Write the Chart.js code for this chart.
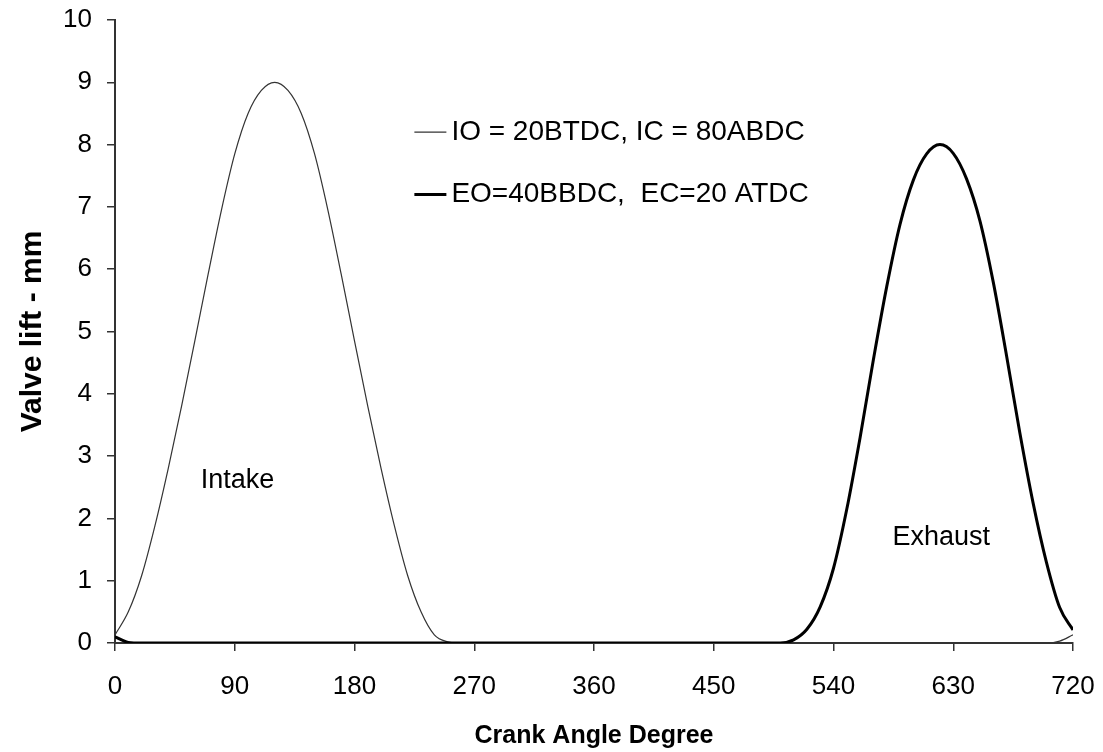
<!DOCTYPE html>
<html>
<head>
<meta charset="utf-8">
<script src="https://cdn.jsdelivr.net/npm/chart.js@4/dist/chart.umd.min.js"></script>
<style>
  html, body { margin: 0; padding: 0; background: #fff; }
  #wrap { width: 1103px; height: 752px; }
</style>
</head>
<body>
<div id="wrap"><canvas id="lift" width="1103" height="752"></canvas></div>
<script>
const FONT = "'Liberation Sans', Arial, Helvetica, sans-serif";

// crank angle (deg) vs valve lift (mm)
const intakeDeg  = [0, 10, 20, 30, 40, 50, 60, 70, 80, 90, 100, 110, 120, 130, 140, 150, 160, 170, 180,
                    190, 200, 210, 220, 230, 240, 250, 260, 700, 710, 720];
const intakeLift = [0.13, 0.5, 1.08, 1.88, 2.8, 3.8, 4.85, 5.92, 6.95, 7.85, 8.5, 8.87, 9.0, 8.87, 8.5, 7.85, 6.95, 5.92, 4.85,
                    3.8, 2.8, 1.88, 1.08, 0.5, 0.13, 0.02, 0.0, 0.0, 0.03, 0.13];

const exhaustDeg  = [0, 10, 20, 500, 510, 520, 530, 540, 550, 560, 570, 580, 590, 600, 610, 620,
                     630, 640, 650, 660, 670, 680, 690, 700, 710, 720];
const exhaustLift = [0.1, 0.01, 0.0, 0.0, 0.05, 0.22, 0.58, 1.2, 2.15, 3.3, 4.55, 5.72, 6.72, 7.43, 7.85, 8.0,
                     7.86, 7.45, 6.78, 5.8, 4.62, 3.38, 2.25, 1.3, 0.57, 0.21];

const xTicks = [0, 90, 180, 270, 360, 450, 540, 630, 720];
const yTicks = [0, 1, 2, 3, 4, 5, 6, 7, 8, 9, 10];

const intakeLabel = "IO = 20BTDC, IC = 80ABDC";
const exhaustLabel = "EO=40BBDC,  EC=20 ATDC";

const pts = (xs, ys) => xs.map((x, i) => ({ x, y: ys[i] }));

// in-plot texts: legend and the two curve names
const notes = {
  id: "notes",
  afterDatasetsDraw(chart) {
    const { ctx, scales: { x, y } } = chart;
    ctx.save();
    ctx.fillStyle = "#000";
    ctx.font = "27px " + FONT;
    ctx.textBaseline = "middle";
    ctx.textAlign = "center";
    ctx.fillText("Intake", x.getPixelForValue(92), y.getPixelForValue(2.6));
    ctx.fillText("Exhaust", x.getPixelForValue(621), y.getPixelForValue(1.7));

    ctx.font = "28px " + FONT;
    const lx = x.getPixelForValue(225);
    const rows = [
      { text: intakeLabel, w: 1.2, color: "#333", y: y.getPixelForValue(8.2) },
      { text: exhaustLabel, w: 3, color: "#000", y: y.getPixelForValue(7.2) },
    ];
    ctx.textAlign = "left";
    for (const r of rows) {
      ctx.beginPath();
      ctx.lineWidth = r.w;
      ctx.strokeStyle = r.color;
      ctx.moveTo(lx, r.y);
      ctx.lineTo(lx + 32, r.y);
      ctx.stroke();
      ctx.fillText(r.text, lx + 37, r.y);
    }
    ctx.restore();
  },
};

const axisLine = { display: true, color: "#333", width: 2 };
const tickGrid = { drawOnChartArea: false, drawTicks: true, tickLength: 8, color: "#333", lineWidth: 1.5 };

new Chart(document.getElementById("lift"), {
  type: "line",
  data: {
    datasets: [
      {
        label: exhaustLabel,
        data: pts(exhaustDeg, exhaustLift),
        borderColor: "#000",
        borderWidth: 3,
        pointRadius: 0,
        cubicInterpolationMode: "monotone",
        fill: false,
      },
      {
        label: intakeLabel,
        data: pts(intakeDeg, intakeLift),
        borderColor: "#333",
        borderWidth: 1.2,
        pointRadius: 0,
        cubicInterpolationMode: "monotone",
        fill: false,
      },
    ],
  },
  options: {
    responsive: false,
    animation: false,
    events: [],
    layout: { padding: { left: 0, right: 30, top: 20, bottom: 0 } },
    plugins: { legend: { display: false }, tooltip: { enabled: false } },
    scales: {
      x: {
        type: "linear",
        min: 0, max: 720,
        afterBuildTicks: (s) => { s.ticks = xTicks.map((v) => ({ value: v })); },
        afterFit: (s) => { s.height = 109; s.paddingLeft = 0; s.paddingRight = 0; },
        border: axisLine,
        grid: tickGrid,
        ticks: { color: "#000", padding: 20, maxRotation: 0, font: { family: FONT, size: 26 } },
        title: {
          display: true, text: "Crank Angle Degree", color: "#000",
          padding: { top: 0, bottom: 1 },
          font: { family: FONT, size: 25, weight: "bold" },
        },
      },
      y: {
        min: 0, max: 10,
        afterBuildTicks: (s) => { s.ticks = yTicks.map((v) => ({ value: v })); },
        afterFit: (s) => { s.width = 115; s.paddingTop = 0; s.paddingBottom = 0; },
        border: axisLine,
        grid: tickGrid,
        ticks: { color: "#000", padding: 15, font: { family: FONT, size: 26 } },
        title: {
          display: true, text: "Valve lift - mm", color: "#000",
          padding: { top: 15, bottom: 0 },
          font: { family: FONT, size: 30, weight: "bold" },
        },
      },
    },
  },
  plugins: [notes],
});
</script>
</body>
</html>
